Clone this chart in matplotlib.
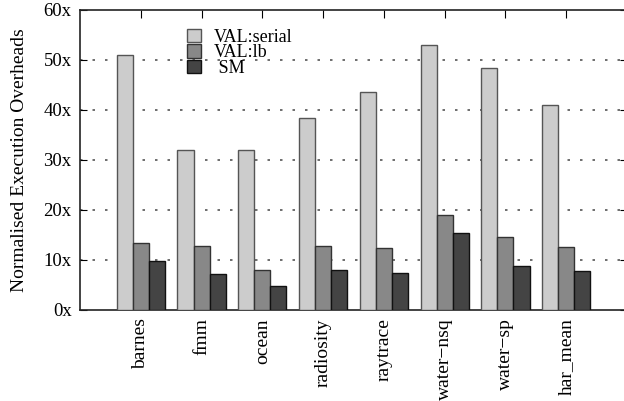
import numpy as np
import matplotlib
matplotlib.use('Agg')
import matplotlib.pyplot as plt

# benchmark names and overheads
benchmarks = ['barnes', 'fmm', 'ocean', 'radiosity', 'raytrace',
              'water\u2212nsq', 'water\u2212sp', 'har_mean']
val_serial = [51.0, 32.0, 32.0, 38.5, 43.7, 53.0, 48.5, 41.1]
val_lb = [13.5, 12.9, 8.1, 12.9, 12.5, 19.1, 14.7, 12.7]
sm = [9.8, 7.3, 4.9, 8.0, 7.4, 15.5, 8.8, 7.9]
y_ticks = [0, 10, 20, 30, 40, 50, 60]

plt.rcParams['font.family'] = ['Liberation Serif', 'DejaVu Serif']

fig = plt.figure(figsize=(6.24, 4.01), dpi=100)
ax = fig.add_axes([80 / 624, 1 - 310 / 401, 547 / 624, 300 / 401])

x = np.arange(1, len(benchmarks) + 1)
w = 0.265
ax.bar(x - w, val_serial, w, color='#cccccc', edgecolor='#555555', linewidth=1, label='VAL:serial', zorder=3)
ax.bar(x, val_lb, w, color='#888888', edgecolor='#333333', linewidth=1, label='VAL:lb', zorder=3)
ax.bar(x + w, sm, w, color='#444444', edgecolor='#111111', linewidth=1, label=' SM', zorder=3)

ax.set_xlim(0, 9)
ax.set_ylim(0, 60)
ax.set_yticks(y_ticks)
ax.set_yticklabels([f'{t}x' for t in y_ticks], fontsize=13.5)
ax.set_xticks(x)
ax.set_xticklabels(benchmarks, rotation=90, fontsize=14)
ax.tick_params(axis='x', direction='in', top=True, bottom=False, length=6, pad=6)
ax.tick_params(axis='y', direction='in', right=True, length=5, pad=6)

for v in y_ticks[1:-1]:
    ax.axhline(v, color='#555555', linestyle=(0, (1.5, 6)), linewidth=1.2, zorder=1)

for s in ax.spines.values():
    s.set_linewidth(1.2)
    s.set_color('#222222')

ax.set_ylabel('Normalised Execution Overheads', fontsize=14, labelpad=11)

ax.legend(loc='upper left', bbox_to_anchor=(0.196, 0.937), frameon=False, fontsize=13,
          handlelength=0.75, handleheight=0.75, handletextpad=0.75, labelspacing=-0.09,
          borderaxespad=0, borderpad=0)

fig.savefig('out.png', dpi=100)
